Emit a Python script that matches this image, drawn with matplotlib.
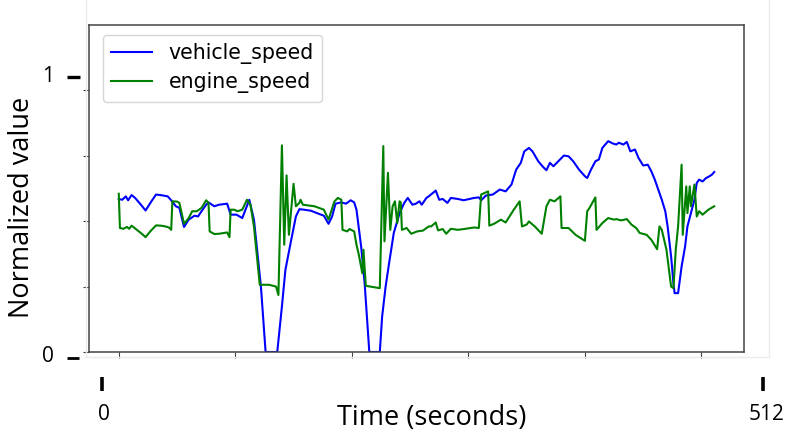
import matplotlib
matplotlib.use('Agg')
import matplotlib.pyplot as plt
from matplotlib.lines import Line2D

# vehicle speed (normalized)
t_vehicle = [0, 3, 6, 8, 11, 14, 19, 23, 28, 32, 37, 42, 45, 49, 52, 56, 60, 65, 68, 71,
             75, 77, 82, 86, 93, 96, 101, 106, 112, 116, 122, 126, 136, 140, 143, 148, 152, 155, 159, 165,
             170, 176, 180, 183, 186, 191, 195, 199, 202, 204, 208, 211, 215, 224, 226, 229, 232, 236, 241, 245,
             248, 252, 255, 258, 260, 264, 266, 272, 275, 278, 282, 285, 291, 296, 305, 309, 311, 315, 321, 327,
             332, 337, 341, 345, 348, 352, 355, 360, 364, 367, 370, 373, 378, 382, 386, 390, 395, 400, 402, 405,
             409, 412, 415, 420, 424, 427, 429, 433, 436, 439, 443, 446, 450, 454, 457, 460, 463, 466, 469, 471,
             474, 476, 477, 480, 483, 486, 488, 491, 494, 496, 498, 501, 504, 507, 509, 511]
vehicle_speed = [0.585, 0.582, 0.595, 0.580, 0.600, 0.589, 0.563, 0.541, 0.576, 0.602, 0.599, 0.595, 0.580, 0.557, 0.551, 0.478, 0.506, 0.521, 0.518, 0.538,
                 0.563, 0.572, 0.557, 0.563, 0.567, 0.525, 0.525, 0.512, 0.582, 0.506, 0.250, 0.0, 0.0, 0.174, 0.314, 0.429, 0.518, 0.546, 0.544, 0.540,
                 0.531, 0.521, 0.490, 0.517, 0.567, 0.572, 0.567, 0.580, 0.572, 0.544, 0.403, 0.263, 0.0, 0.0, 0.135, 0.250, 0.340, 0.455, 0.531, 0.570,
                 0.589, 0.563, 0.567, 0.576, 0.563, 0.589, 0.595, 0.617, 0.582, 0.585, 0.570, 0.589, 0.585, 0.580, 0.589, 0.591, 0.580, 0.598, 0.602, 0.621,
                 0.614, 0.640, 0.697, 0.723, 0.767, 0.780, 0.767, 0.729, 0.708, 0.695, 0.723, 0.710, 0.733, 0.751, 0.748, 0.729, 0.697, 0.672, 0.665, 0.695,
                 0.729, 0.736, 0.780, 0.806, 0.797, 0.793, 0.800, 0.793, 0.803, 0.767, 0.774, 0.742, 0.713, 0.716, 0.691, 0.659, 0.621, 0.582, 0.538, 0.480,
                 0.365, 0.263, 0.225, 0.225, 0.327, 0.403, 0.480, 0.531, 0.582, 0.646, 0.659, 0.652, 0.665, 0.672, 0.678, 0.688]

# engine speed (normalized)
t_engine = [0, 1, 4, 7, 9, 11, 16, 20, 23, 27, 32, 36, 40, 43, 45, 46, 50, 52, 56, 60,
            63, 67, 71, 75, 77, 78, 82, 86, 93, 95, 96, 99, 102, 106, 110, 113, 116, 121, 129, 135,
            137, 140, 142, 144, 146, 150, 152, 155, 156, 158, 168, 176, 180, 185, 188, 191, 192, 196, 198, 202,
            204, 206, 209, 210, 212, 224, 227, 228, 231, 233, 235, 237, 239, 241, 242, 243, 247, 251, 256, 261,
            266, 268, 272, 274, 278, 281, 285, 291, 296, 305, 309, 311, 314, 317, 318, 322, 328, 332, 339, 344,
            346, 350, 352, 357, 363, 367, 370, 374, 379, 380, 386, 392, 400, 402, 404, 409, 410, 415, 420, 425,
            427, 431, 436, 440, 444, 447, 453, 457, 462, 464, 466, 470, 474, 476, 478, 480, 483, 484, 487, 488,
            490, 491, 494, 496, 498, 501, 506, 511]
engine_speed = [0.605, 0.474, 0.471, 0.478, 0.471, 0.483, 0.465, 0.451, 0.439, 0.461, 0.484, 0.483, 0.480, 0.476, 0.467, 0.576, 0.575, 0.570, 0.490, 0.512,
                0.538, 0.538, 0.551, 0.580, 0.570, 0.461, 0.451, 0.452, 0.457, 0.439, 0.544, 0.544, 0.538, 0.544, 0.582, 0.563, 0.480, 0.257, 0.257, 0.250,
                0.218, 0.790, 0.410, 0.675, 0.448, 0.643, 0.557, 0.570, 0.582, 0.563, 0.557, 0.544, 0.506, 0.575, 0.589, 0.582, 0.467, 0.461, 0.470, 0.461,
                0.410, 0.372, 0.301, 0.391, 0.253, 0.244, 0.787, 0.423, 0.685, 0.467, 0.557, 0.576, 0.493, 0.576, 0.572, 0.467, 0.474, 0.452, 0.461, 0.464,
                0.480, 0.480, 0.495, 0.465, 0.470, 0.452, 0.471, 0.467, 0.470, 0.476, 0.474, 0.602, 0.608, 0.614, 0.483, 0.490, 0.506, 0.495, 0.544, 0.576,
                0.480, 0.487, 0.499, 0.480, 0.452, 0.557, 0.582, 0.576, 0.595, 0.474, 0.474, 0.448, 0.425, 0.538, 0.551, 0.591, 0.467, 0.493, 0.512, 0.506,
                0.508, 0.503, 0.508, 0.487, 0.474, 0.455, 0.448, 0.429, 0.393, 0.480, 0.467, 0.391, 0.250, 0.244, 0.391, 0.480, 0.716, 0.448, 0.633, 0.531,
                0.633, 0.557, 0.640, 0.518, 0.538, 0.525, 0.544, 0.557]

W, H = 786, 437
fig = plt.figure(figsize=(W / 100, H / 100), dpi=100, facecolor='white')

def fx(px):
    return px / W

def fy(py):
    return 1 - py / H

# inner matplotlib axes (the pasted plot)
ax = fig.add_axes([fx(89), fy(352), fx(744) - fx(89), fy(25) - fy(352)])
ax.plot(t_vehicle, vehicle_speed, color='b', lw=1.5, label='vehicle_speed')
ax.plot(t_engine, engine_speed, color='g', lw=1.5, label='engine_speed')
ax.set_ylim(0, 1.25)
ax.set_xticks([0, 100, 200, 300, 400, 500])
ax.set_yticks([0, 0.25, 0.5, 0.75, 1.0])
ax.set_xticklabels([])
ax.set_yticklabels([])
for s in ax.spines.values():
    s.set_color('#444444')
    s.set_linewidth(1.1)
ax.tick_params(color='#444444', length=4)
ax.legend(loc='upper left', bbox_to_anchor=(14 / 655, (352 - 35) / 327), borderaxespad=0,
          fontsize=14.8, handlelength=2.0, handletextpad=0.8, labelspacing=0.4)

# faint border of the pasted image
fig.add_artist(Line2D([fx(86), fx(86)], [fy(0), fy(357)], color='#ebebeb', lw=1))
fig.add_artist(Line2D([fx(86), fx(769)], [fy(357), fy(357)], color='#ebebeb', lw=1))
fig.add_artist(Line2D([fx(769), fx(769)], [fy(0), fy(357)], color='#ebebeb', lw=1))

# overlaid axis labels and ticks
font = 'Open Sans'
fig.text(fx(22), fy(207), 'Normalized value', rotation=90, ha='center', va='center',
         fontsize=19.5, family=font)
fig.text(fx(432), fy(418), 'Time (seconds)', ha='center', va='center', fontsize=19.5, family=font)

fig.text(fx(48), fy(76), '1', ha='center', va='center', fontsize=15, family=font)
fig.add_artist(Line2D([fx(67), fx(80)], [fy(77), fy(77)], color='black', lw=2.4, solid_capstyle='butt'))
fig.text(fx(48), fy(357), '0', ha='center', va='center', fontsize=15, family=font)
fig.add_artist(Line2D([fx(67), fx(79)], [fy(358), fy(358)], color='black', lw=2.0, solid_capstyle='butt'))

fig.add_artist(Line2D([fx(102), fx(102)], [fy(377), fy(391)], color='black', lw=2.6, solid_capstyle='butt'))
fig.text(fx(104), fy(415), '0', ha='center', va='center', fontsize=15, family=font)
fig.add_artist(Line2D([fx(763), fx(763)], [fy(377), fy(391)], color='black', lw=2.6, solid_capstyle='butt'))
fig.text(fx(767), fy(415), '512', ha='center', va='center', fontsize=15, family=font)

fig.savefig('out.png', dpi=100, facecolor='white')
